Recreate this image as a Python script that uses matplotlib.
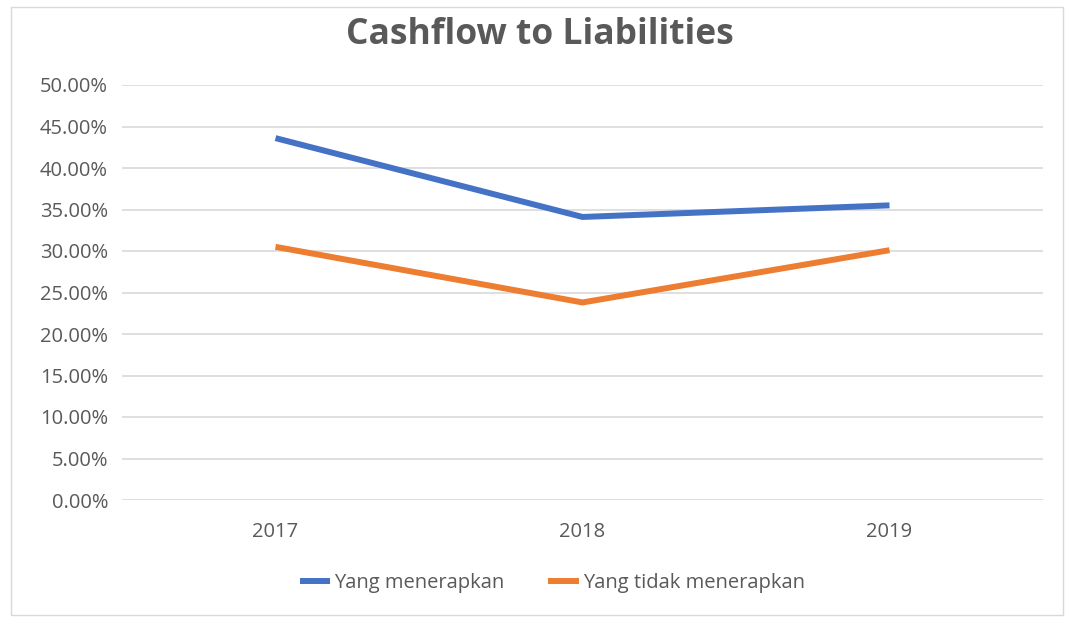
import matplotlib.pyplot as plt
from matplotlib.patches import Rectangle
from matplotlib.ticker import PercentFormatter

years = ['2017', '2018', '2019']
menerapkan = [0.436, 0.341, 0.355]
tidak_menerapkan = [0.305, 0.238, 0.301]

plt.rcParams['font.family'] = ['Open Sans', 'DejaVu Sans']

fig = plt.figure(figsize=(10.66, 6.18), dpi=100)
ax = fig.add_axes([122 / 1066, 1 - 500 / 618, (1043 - 122) / 1066, (500 - 85) / 618])

x = range(len(years))
ax.plot(x, menerapkan, color='#4472C4', lw=4.3, label='Yang menerapkan', solid_capstyle='butt')
ax.plot(x, tidak_menerapkan, color='#ED7D31', lw=4.3, label='Yang tidak menerapkan', solid_capstyle='butt')

ax.set_xlim(-0.5, 2.5)
ax.set_ylim(0, 0.5)
ax.set_yticks([i * 0.05 for i in range(11)])
ax.yaxis.set_major_formatter(PercentFormatter(1.0, decimals=2))
ax.set_xticks(list(x))
ax.set_xticklabels(years)
ax.grid(axis='y', color='#D9D9D9', lw=1.2)
ax.set_axisbelow(True)
for s in ax.spines.values():
    s.set_visible(False)
ax.tick_params(length=0, labelsize=14.5, labelcolor='#595959')
ax.tick_params(axis='y', pad=10)
ax.tick_params(axis='x', pad=16)

fig.text(540 / 1066, 1 - 35 / 618, 'Cashflow to Liabilities', ha='center', va='center',
         fontsize=25.5, fontweight='bold', color='#595959')

fig.legend(loc='center', bbox_to_anchor=(0.518, 1 - 583 / 618), ncol=2, frameon=False,
           fontsize=14.5, labelcolor='#595959', handlelength=1.5, handletextpad=0.2,
           columnspacing=2.2)

fig.patches.append(Rectangle((11 / 1066, 3 / 618), 1052 / 1066, 608 / 618,
                             transform=fig.transFigure, fill=False,
                             edgecolor='#D9D9D9', lw=1))

fig.savefig('out.png', dpi=100)
